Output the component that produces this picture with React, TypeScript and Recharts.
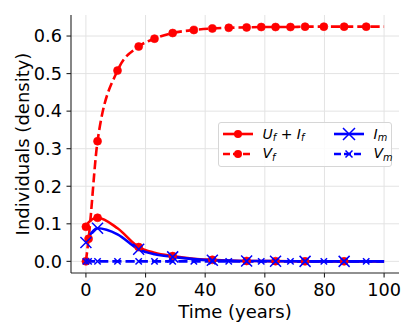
import React from 'react';
import { LineChart, Line, XAxis, YAxis, CartesianGrid, Legend, Label } from 'recharts';

// Solver time points (years)
const TIMES = [0, 0.9, 3.9, 10.6, 17.7, 23.0, 29.1, 36.2, 42.4, 47.9, 53.9, 58.8, 63.6, 68.6, 73.5, 79.8, 86.6, 94.0, 100];
// U_f + I_f
const UF_IF = [0.092, 0.104, 0.116, 0.088, 0.038, 0.023, 0.014, 0.007, 0.004, 0.002, 0.001, 0.001, 0.0005, 0.0003, 0, 0, 0, 0, 0];
// V_f
const VF = [0, 0.06, 0.32, 0.508, 0.572, 0.593, 0.608, 0.616, 0.62, 0.622, 0.623, 0.624, 0.624, 0.624, 0.625, 0.625, 0.625, 0.625, 0.625];
// I_m
const IM = [0.05, 0.064, 0.088, 0.072, 0.032, 0.019, 0.012, 0.006, 0.003, 0.002, 0.001, 0.001, 0.0004, 0.0002, 0, 0, 0, 0, 0];
// V_m
const VM = [0, 0, 0, 0, 0, 0, 0, 0, 0, 0, 0, 0, 0, 0, 0, 0, 0, 0, 0];

const X_TICKS = [0, 20, 40, 60, 80, 100];
const Y_TICKS = [0, 0.1, 0.2, 0.3, 0.4, 0.5, 0.6];

const RED = '#ff0000';
const BLUE = '#0000ff';
const FONT = '"DejaVu Sans", sans-serif';
const DASH = '9.2 4';

const data = TIMES.map((t, i) => ({ t, ufif: UF_IF[i], vf: VF[i], im: IM[i], vm: VM[i] }));
const LAST = TIMES.length - 1;

const circleDot = (every: number) => (p: any) => {
  const { cx, cy, index } = p;
  if (index % every !== 0 || index >= LAST || cx == null || cy == null) return <g key={`d${index}`} />;
  return <circle key={`d${index}`} cx={cx} cy={cy} r={4} fill={RED} stroke={RED} strokeWidth={0.6} />;
};

const crossDot = (every: number, s: number) => (p: any) => {
  const { cx, cy, index } = p;
  if (index % every !== 0 || index >= LAST || cx == null || cy == null) return <g key={`x${index}`} />;
  return (
    <path
      key={`x${index}`}
      d={`M${cx - s},${cy - s}L${cx + s},${cy + s}M${cx - s},${cy + s}L${cx + s},${cy - s}`}
      stroke={BLUE}
      strokeWidth={1.5}
      fill="none"
    />
  );
};

const Handle = ({ color, dashed, marker }: { color: string; dashed: boolean; marker: 'o' | 'X' | 'x' }) => (
  <svg width={30} height={16} style={{ position: 'absolute', left: 0, top: -8 }}>
    <line x1={0} y1={8} x2={30} y2={8} stroke={color} strokeWidth={2.6} strokeDasharray={dashed ? '7 3 ' : undefined} />
    {marker === 'o' && <circle cx={15} cy={8} r={4} fill={color} />}
    {marker === 'X' && <path d="M9,2L21,14M9,14L21,2" stroke={color} strokeWidth={1.5} fill="none" />}
    {marker === 'x' && <path d="M11.5,4.5L18.5,11.5M11.5,11.5L18.5,4.5" stroke={color} strokeWidth={1.5} fill="none" />}
  </svg>
);

const Sym = ({ base, sub }: { base: string; sub: string }) => (
  <span>
    <span style={{ fontStyle: 'italic' }}>{base}</span>
    <span style={{ fontStyle: 'italic', fontSize: '0.7em', position: 'relative', top: '0.3em' }}>{sub}</span>
  </span>
);

const LegendBox = () => {
  const item = (left: number, top: number, handle: React.ReactNode, text: React.ReactNode) => (
    <div style={{ position: 'absolute', left, top, height: 0 }}>
      <div style={{ position: 'absolute', left: 0, top: 0 }}>{handle}</div>
      <div style={{ position: 'absolute', left: 39.5, top: -8.5, whiteSpace: 'nowrap', lineHeight: '17px' }}>{text}</div>
    </div>
  );
  return (
    <div
      style={{
        position: 'relative',
        width: 174,
        height: 45,
        boxSizing: 'border-box',
        border: '1px solid #d6d6d6',
        borderRadius: 3,
        background: 'rgba(255,255,255,0.85)',
        fontFamily: FONT,
        fontSize: 14,
        color: '#000',
      }}
    >
      {item(4, 11, <Handle color={RED} dashed={false} marker="o" />, <span><Sym base="U" sub="f" />{' + '}<Sym base="I" sub="f" /></span>)}
      {item(4, 30.5, <Handle color={RED} dashed={true} marker="o" />, <Sym base="V" sub="f" />)}
      {item(115, 11, <Handle color={BLUE} dashed={false} marker="X" />, <Sym base="I" sub="m" />)}
      {item(115, 30.5, <Handle color={BLUE} dashed={true} marker="x" />, <Sym base="V" sub="m" />)}
    </div>
  );
};

const tickStyle = { fontFamily: FONT, fontSize: 17.7, fill: '#000' };

export default function App() {
  return (
    <div style={{ position: 'absolute', left: 0, top: 0, width: 415, height: 332, background: '#fff' }}>
      <LineChart width={415} height={332} data={data} margin={{ top: 15, right: 16, bottom: 0, left: 0 }}>
        <CartesianGrid stroke="#e3e3e3" strokeWidth={1} horizontalValues={Y_TICKS} verticalValues={X_TICKS} />
        <XAxis
          dataKey="t"
          type="number"
          domain={[-5, 105]}
          ticks={X_TICKS}
          allowDataOverflow
          height={59}
          tickSize={4.5}
          tickMargin={6}
          tick={tickStyle}
          stroke="#222"
          axisLine={{ stroke: '#222', strokeWidth: 1.1 }}
          tickLine={{ stroke: '#222', strokeWidth: 1.1 }}
        >
          <Label
            content={(props: any) => {
              const vb = props.viewBox || { x: 71, y: 273, width: 328, height: 59 };
              return (
                <text x={vb.x + vb.width / 2} y={vb.y + 44.5} textAnchor="middle" fontFamily={FONT} fontSize={18} fill="#000">
                  Time (years)
                </text>
              );
            }}
          />
        </XAxis>
        <YAxis
          type="number"
          domain={[-0.031, 0.656]}
          ticks={Y_TICKS}
          allowDataOverflow
          width={71}
          tickSize={4.5}
          tickMargin={4.5}
          tick={tickStyle}
          tickFormatter={(v: number) => v.toFixed(1)}
          axisLine={{ stroke: '#222', strokeWidth: 1.1 }}
          tickLine={{ stroke: '#222', strokeWidth: 1.1 }}
        >
          <Label
            content={(props: any) => {
              const vb = props.viewBox || { x: 0, y: 15, width: 71, height: 258 };
              const cy = vb.y + vb.height / 2;
              return (
                <text transform={`translate(29,${cy}) rotate(-90)`} textAnchor="middle" fontFamily={FONT} fontSize={18} fill="#000">
                  Individuals (density)
                </text>
              );
            }}
          />
        </YAxis>
        <Legend
          layout="horizontal"
          verticalAlign="middle"
          align="center"
          content={() => <LegendBox />}
          wrapperStyle={{ left: 218, top: 122, width: 174, height: 45, margin: 0 }}
        />
        <Line
          dataKey="ufif"
          name="U_f + I_f"
          type="monotone"
          stroke={RED}
          strokeWidth={2.6}
          dot={circleDot(2)}
          activeDot={false}
          isAnimationActive={false}
        />
        <Line
          dataKey="vf"
          name="V_f"
          type="monotone"
          stroke={RED}
          strokeWidth={2.6}
          strokeDasharray={DASH}
          dot={circleDot(1)}
          activeDot={false}
          isAnimationActive={false}
        />
        <Line
          dataKey="im"
          name="I_m"
          type="monotone"
          stroke={BLUE}
          strokeWidth={2.6}
          dot={crossDot(2, 5.5)}
          activeDot={false}
          isAnimationActive={false}
        />
        <Line
          dataKey="vm"
          name="V_m"
          type="monotone"
          stroke={BLUE}
          strokeWidth={2.6}
          strokeDasharray={DASH}
          dot={crossDot(1, 3.2)}
          activeDot={false}
          isAnimationActive={false}
        />
      </LineChart>
    </div>
  );
}
